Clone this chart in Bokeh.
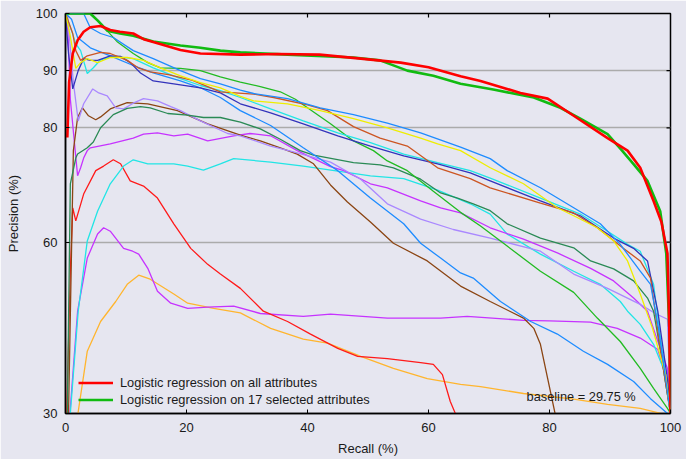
from bokeh.plotting import figure
from bokeh.models import Range1d, FixedTicker, Legend, LegendItem, Label
from bokeh.embed import file_html
from bokeh.resources import INLINE

# ---------------- data (recall %, precision %) ----------------
x_ticks = [0, 20, 40, 60, 80, 100]
y_ticks = [30, 60, 80, 90, 100]
y_grid = [60, 80, 90]

lr_all_x = [0.3, 0.6, 1.2, 2.0, 3.0, 4.1, 5.8, 7.4, 9.0, 11.2, 12.9, 14.5, 19.0, 22.3, 28.9, 35.0, 42.0, 48.8, 55.4, 60.0, 65.3, 68.6, 75.2, 79.7, 84.0, 89.6, 92.9, 95.0, 97.2, 98.5, 99.5, 99.8, 100]
lr_all_y = [78.3, 88.0, 93.0, 95.3, 96.8, 97.6, 97.8, 97.1, 96.8, 96.5, 95.5, 95.0, 93.6, 93.0, 92.8, 92.9, 92.8, 92.1, 91.4, 90.6, 89.0, 88.2, 86.1, 85.1, 82.1, 78.2, 76.0, 73.0, 67.2, 63.5, 58.0, 45.0, 30.0]

lr_sel_x = [0, 4.1, 5.3, 6.9, 9.0, 11.2, 14.5, 19.0, 22.3, 25.6, 28.9, 36.7, 47.6, 52.0, 56.5, 60.8, 65.3, 70.7, 77.4, 81.8, 85.1, 89.6, 92.0, 94.0, 96.2, 98.3, 99.3, 99.8, 100]
lr_sel_y = [100, 100, 98.8, 97.0, 96.5, 96.1, 95.1, 94.4, 94.0, 93.5, 93.2, 92.8, 92.3, 91.8, 90.0, 89.1, 87.7, 86.7, 85.3, 83.5, 81.6, 78.9, 76.0, 73.5, 70.7, 65.4, 58.0, 45.0, 30.0]

red_thin_x = [0.2, 0.8, 1.2, 1.7, 3.0, 5.0, 6.3, 7.9, 9.1, 10.7, 12.9, 15.2, 17.9, 20.7, 23.5, 25.6, 28.9, 32.7, 36.7, 40.5, 45.0, 48.3, 53.2, 58.7, 60.8, 62.3, 63.6, 64.6]
red_thin_y = [30.0, 55.0, 66.0, 63.7, 68.4, 72.5, 73.3, 74.4, 73.7, 70.7, 69.8, 67.7, 63.2, 58.9, 56.1, 54.4, 51.9, 47.9, 46.1, 43.9, 41.4, 40.0, 39.6, 38.9, 38.6, 36.8, 32.1, 29.6]

gold_x = [2.0, 3.6, 5.8, 8.3, 10.2, 12.1, 14.0, 17.9, 20.2, 24.5, 28.9, 33.9, 39.3, 43.3, 48.8, 54.2, 59.8, 65.3, 68.6, 75.7, 84.0, 89.6, 95.0, 100]
gold_y = [29.6, 40.9, 46.1, 49.6, 52.6, 54.2, 53.5, 50.9, 49.3, 48.4, 47.6, 44.9, 43.0, 42.3, 40.0, 37.9, 36.1, 35.1, 34.7, 33.5, 32.5, 31.6, 30.9, 29.6]

violet_low_x = [0.7, 2.0, 3.6, 5.3, 6.3, 7.4, 9.6, 11.1, 12.1, 13.6, 15.2, 17.4, 20.2, 23.5, 27.8, 32.2, 39.3, 43.8, 53.2, 62.0, 66.4, 75.7, 80.0, 86.8, 91.2, 95.0, 97.9, 99.5, 100]
violet_low_y = [29.6, 47.9, 57.2, 61.4, 62.5, 61.9, 58.9, 58.4, 57.9, 55.4, 51.4, 49.3, 48.4, 48.6, 48.8, 47.5, 47.0, 47.4, 46.7, 46.7, 47.0, 46.3, 46.2, 46.0, 44.9, 43.2, 41.2, 35.6, 30.0]

cyan_low_x = [0.8, 2.1, 3.6, 5.3, 7.4, 9.6, 11.2, 13.6, 17.9, 20.2, 22.8, 25.6, 27.8, 33.9, 39.3, 45.0, 50.4, 55.9, 61.5, 66.9, 70.2, 73.0, 78.5, 84.0, 88.4, 91.7, 92.9, 95.0, 97.2, 98.8, 100]
cyan_low_y = [30.0, 47.9, 60.2, 65.4, 70.2, 73.3, 74.4, 73.7, 73.7, 73.3, 72.6, 73.7, 74.6, 74.0, 73.3, 72.4, 71.6, 71.1, 69.1, 66.7, 64.9, 61.4, 57.9, 54.9, 52.6, 49.6, 47.9, 45.6, 42.1, 37.9, 30.0]

violet_mid_x = [0.3, 0.8, 1.6, 2.0, 2.5, 3.0, 3.6, 4.1, 7.4, 11.2, 12.9, 15.2, 17.9, 20.2, 23.5, 27.8, 30.5, 33.9, 38.3, 43.8, 46.0, 50.4, 53.2, 58.7, 62.0, 65.3, 70.2, 75.7, 81.3, 86.8, 90.6, 93.9, 96.2, 98.3, 99.5, 100]
violet_mid_y = [100, 85.0, 76.0, 71.6, 73.0, 74.7, 76.0, 76.5, 77.2, 78.2, 78.9, 79.1, 78.6, 78.9, 77.7, 78.6, 79.0, 78.6, 76.0, 73.2, 72.5, 70.2, 69.5, 67.2, 66.0, 65.1, 62.5, 60.5, 58.1, 55.4, 53.2, 50.2, 47.9, 41.4, 37.9, 30.0]

seagreen_x = [0.3, 0.8, 1.7, 2.0, 3.6, 4.6, 5.8, 7.9, 10.2, 12.4, 14.0, 16.9, 20.2, 22.8, 25.6, 28.9, 32.2, 35.5, 38.8, 41.0, 47.6, 52.0, 54.2, 58.7, 62.0, 64.8, 67.4, 70.2, 73.0, 78.5, 84.0, 86.8, 90.6, 93.9, 96.2, 97.2, 98.5, 100]
seagreen_y = [30.0, 70.2, 74.7, 75.4, 76.5, 77.5, 80.0, 82.3, 83.4, 83.7, 83.5, 82.5, 82.2, 81.8, 81.8, 81.0, 79.8, 78.0, 76.0, 75.2, 73.9, 73.5, 73.0, 71.0, 68.6, 67.7, 66.7, 65.5, 63.2, 60.7, 59.0, 56.7, 55.3, 53.2, 50.2, 47.9, 40.0, 30.0]

brown_x = [0.5, 1.3, 2.0, 2.8, 3.8, 5.0, 5.8, 7.4, 10.2, 13.6, 18.5, 23.5, 28.9, 32.2, 35.5, 38.3, 41.0, 43.8, 46.6, 50.4, 54.2, 59.8, 65.3, 70.2, 75.7, 77.4, 78.5, 79.7, 81.0]
brown_y = [30.0, 76.0, 81.8, 83.5, 82.1, 81.4, 81.9, 83.3, 84.4, 84.2, 83.0, 80.7, 78.7, 77.7, 76.5, 75.4, 73.7, 70.0, 67.0, 63.5, 59.8, 56.7, 52.3, 49.6, 46.7, 44.9, 42.1, 36.1, 29.6]

lavender_x = [0.3, 1.3, 2.1, 3.0, 4.5, 5.5, 6.9, 8.3, 9.6, 11.2, 12.9, 15.2, 17.4, 19.0, 22.3, 26.8, 28.9, 33.9, 37.7, 43.8, 48.8, 53.2, 58.7, 64.1, 70.2, 78.5, 84.0, 89.6, 95.0, 97.5, 99.5, 100]
lavender_y = [100, 88.0, 81.2, 84.2, 86.8, 86.1, 85.6, 83.5, 83.3, 84.3, 85.1, 84.7, 83.7, 83.0, 81.2, 79.0, 78.6, 76.8, 75.8, 74.0, 71.0, 66.7, 64.0, 62.2, 60.7, 58.4, 54.4, 51.9, 49.1, 47.5, 46.5, 30.0]

blue_low_x = [0, 1.0, 2.0, 4.1, 7.4, 11.2, 14.5, 19.0, 22.3, 25.6, 28.9, 33.9, 39.3, 45.0, 50.4, 55.9, 58.7, 62.0, 65.3, 67.4, 71.9, 76.9, 81.3, 85.6, 89.6, 93.9, 96.7, 99.5, 100]
blue_low_y = [100, 99.0, 95.8, 94.0, 92.6, 90.9, 89.6, 88.2, 87.0, 85.3, 83.0, 80.4, 76.5, 72.5, 67.7, 63.2, 59.8, 57.2, 54.6, 53.7, 49.6, 46.1, 43.9, 40.9, 38.6, 35.6, 32.6, 30.0, 29.8]

blue_up_x = [0, 3.0, 4.1, 5.8, 7.9, 11.2, 14.5, 19.0, 22.3, 25.6, 28.9, 31.1, 36.7, 42.1, 47.6, 53.2, 58.7, 65.3, 70.2, 73.0, 78.5, 84.0, 88.4, 91.7, 95.0, 96.7, 98.0, 99.2, 100]
blue_up_y = [100, 100, 97.5, 96.5, 95.8, 93.5, 92.1, 90.0, 88.6, 87.7, 86.6, 86.0, 85.1, 83.5, 82.3, 80.8, 79.1, 76.6, 74.6, 72.5, 69.5, 66.0, 63.2, 59.6, 54.9, 52.6, 45.0, 36.0, 30.0]

yellow_x = [0, 0.8, 1.7, 2.5, 3.6, 5.3, 7.4, 10.2, 12.9, 15.7, 19.0, 22.3, 25.6, 28.9, 31.1, 36.7, 42.1, 47.6, 53.2, 58.7, 61.5, 65.3, 70.2, 75.7, 81.3, 84.0, 87.9, 90.6, 92.9, 95.0, 97.0, 99.2, 100]
yellow_y = [100, 96.0, 90.4, 91.4, 92.1, 91.4, 92.3, 92.3, 91.8, 90.5, 89.1, 87.9, 87.0, 85.5, 84.7, 84.2, 83.0, 81.6, 80.0, 78.2, 77.2, 76.0, 73.0, 70.2, 66.0, 64.6, 62.5, 60.2, 56.7, 50.9, 45.0, 36.8, 30.0]

cyan_up_x = [0, 1.0, 1.7, 2.5, 3.6, 4.6, 5.8, 7.9, 11.2, 14.5, 19.0, 22.3, 25.6, 28.9, 33.9, 39.3, 45.0, 50.4, 55.9, 61.5, 66.9, 70.2, 78.5, 85.1, 89.6, 92.9, 95.0, 97.2, 98.5, 100]
cyan_up_y = [100, 97.0, 94.7, 93.5, 89.5, 90.5, 91.9, 92.5, 92.1, 90.5, 88.6, 87.4, 86.5, 85.3, 83.3, 81.2, 79.1, 77.4, 75.4, 73.9, 72.5, 71.2, 67.7, 64.9, 61.9, 59.6, 58.4, 52.6, 42.0, 30.0]

navy_x = [0, 0.5, 1.2, 2.1, 3.0, 4.1, 5.3, 7.4, 9.1, 10.7, 12.4, 14.5, 17.9, 22.3, 25.6, 28.9, 33.9, 39.3, 45.0, 50.4, 55.9, 61.5, 66.9, 70.2, 78.5, 85.1, 90.6, 93.9, 96.2, 97.2, 97.9, 99.5, 100]
navy_y = [100, 93.0, 86.8, 90.0, 92.1, 91.8, 91.8, 92.6, 92.5, 91.4, 89.6, 88.2, 87.7, 87.0, 86.1, 84.2, 82.6, 80.7, 78.6, 76.8, 75.1, 73.7, 72.1, 70.7, 67.2, 64.6, 60.7, 58.9, 56.7, 51.4, 47.9, 36.0, 30.0]

rust_x = [0, 1.2, 1.7, 2.5, 3.6, 5.8, 7.4, 10.2, 12.0, 14.0, 17.0, 21.0, 25.6, 31.1, 34.4, 40.0, 43.3, 47.6, 52.0, 56.5, 61.5, 66.9, 70.2, 78.5, 84.0, 87.9, 92.2, 95.0, 96.7, 98.5, 99.5, 100]
rust_y = [100, 96.5, 93.5, 91.8, 92.6, 93.2, 93.0, 91.8, 90.5, 89.8, 89.3, 88.3, 86.3, 85.9, 85.3, 84.0, 83.0, 80.2, 78.2, 76.8, 73.0, 71.1, 69.5, 66.8, 65.1, 62.5, 58.9, 56.7, 53.7, 40.0, 33.3, 30.0]

lime_x = [0, 4.0, 6.0, 8.6, 11.2, 13.6, 15.7, 19.0, 22.3, 25.6, 28.9, 32.2, 35.5, 38.0, 40.0, 43.8, 47.6, 50.9, 53.2, 56.5, 60.8, 65.3, 68.6, 73.0, 78.5, 84.0, 87.9, 91.7, 95.0, 97.2, 99.5, 100]
lime_y = [100, 100, 98.0, 95.0, 93.0, 91.4, 90.5, 90.4, 90.0, 88.9, 88.0, 87.2, 86.3, 85.0, 83.5, 80.7, 77.7, 76.0, 74.2, 72.5, 68.9, 65.2, 62.8, 59.3, 54.9, 51.2, 46.7, 42.6, 37.9, 34.4, 30.9, 30.0]

legend_labels = ["Logistic regression on all attributes",
                 "Logistic regression on 17 selected attributes"]
baseline_text = "baseline = 29.75 %"

# ---------------- figure ----------------
BG = "#e6e6f0"
FONT = "Liberation Sans"
TXT = "#1a1a1a"
X0, X1, Y0, Y1 = 0, 100, 30, 100

p = figure(width=686, height=459, output_backend="svg", toolbar_location=None,
           x_range=Range1d(X0, X1), y_range=Range1d(Y0, Y1),
           min_border_left=65, min_border_right=16, min_border_top=13, min_border_bottom=46)
p.background_fill_color = BG
p.border_fill_color = BG
p.outline_line_color = "black"
p.outline_line_width = 1.5

p.xgrid.visible = False
p.ygrid.ticker = FixedTicker(ticks=y_grid)
p.ygrid.grid_line_color = "#ababab"
p.ygrid.grid_line_width = 1.5

for ax in (p.xaxis[0], p.yaxis[0]):
    ax.axis_line_color = "black"
    ax.axis_line_width = 1.5
    ax.major_tick_in = 4
    ax.major_tick_out = 0
    ax.major_tick_line_color = "black"
    ax.minor_tick_line_color = None
    ax.major_label_text_font = FONT
    ax.major_label_text_font_size = "13px"
    ax.major_label_text_color = TXT
    ax.axis_label_text_font = FONT
    ax.axis_label_text_font_size = "13px"
    ax.axis_label_text_font_style = "normal"
    ax.axis_label_text_color = TXT

p.xaxis.ticker = FixedTicker(ticks=x_ticks)
p.yaxis.ticker = FixedTicker(ticks=y_ticks)
p.xaxis.axis_label = "Recall (%)"
p.yaxis.axis_label = "Precision (%)"
p.xaxis.major_label_standoff = 9
p.xaxis.axis_label_standoff = 6
p.yaxis.major_label_standoff = 8
p.yaxis.axis_label_standoff = 12

thin = [
    (gold_x, gold_y, "#ffb52e"),
    (violet_low_x, violet_low_y, "#c633ff"),
    (red_thin_x, red_thin_y, "#ff1a1a"),
    (cyan_low_x, cyan_low_y, "#22e5e5"),
    (violet_mid_x, violet_mid_y, "#c633ff"),
    (brown_x, brown_y, "#8b4513"),
    (lavender_x, lavender_y, "#aa88ff"),
    (seagreen_x, seagreen_y, "#2a8a55"),
    (blue_low_x, blue_low_y, "#1e8cff"),
    (lime_x, lime_y, "#22bb22"),
    (cyan_up_x, cyan_up_y, "#22e5e5"),
    (navy_x, navy_y, "#3333bb"),
    (rust_x, rust_y, "#cc5522"),
    (yellow_x, yellow_y, "#eeee00"),
    (blue_up_x, blue_up_y, "#1e8cff"),
]
for xs, ys, col in thin:
    p.line(xs, ys, line_color=col, line_width=1.3)

r_sel = p.line(lr_sel_x, lr_sel_y, line_color="#11bb11", line_width=2.6)
r_all = p.line(lr_all_x, lr_all_y, line_color="#ff0000", line_width=2.6)

# mirrored inward tick marks on the top and right frame edges
top_ticks = x_ticks[1:-1]
tick_dy = (Y1 - Y0) * 4.0 / 400.0
tick_dx = (X1 - X0) * 4.0 / 605.0
p.segment(x0=top_ticks, y0=[Y1] * len(top_ticks), x1=top_ticks, y1=[Y1 - tick_dy] * len(top_ticks),
          line_color="black", line_width=1.2)
p.segment(x0=[X1] * len(y_grid), y0=y_grid, x1=[X1 - tick_dx] * len(y_grid), y1=y_grid,
          line_color="black", line_width=1.2)

legend = Legend(items=[LegendItem(label=legend_labels[0], renderers=[r_all]),
                       LegendItem(label=legend_labels[1], renderers=[r_sel])],
                location=(13, 5), background_fill_alpha=0, border_line_alpha=0,
                padding=0, margin=0, spacing=0, glyph_width=35, glyph_height=17,
                label_height=17, label_standoff=7,
                label_text_font=FONT, label_text_font_size="12.8px", label_text_color=TXT)
p.add_layout(legend)

p.add_layout(Label(x=76.2, y=33.0, text=baseline_text, text_font=FONT,
                   text_font_size="12.8px", text_color=TXT, text_baseline="middle"))

open("out.html", "w").write(file_html(p, INLINE))
